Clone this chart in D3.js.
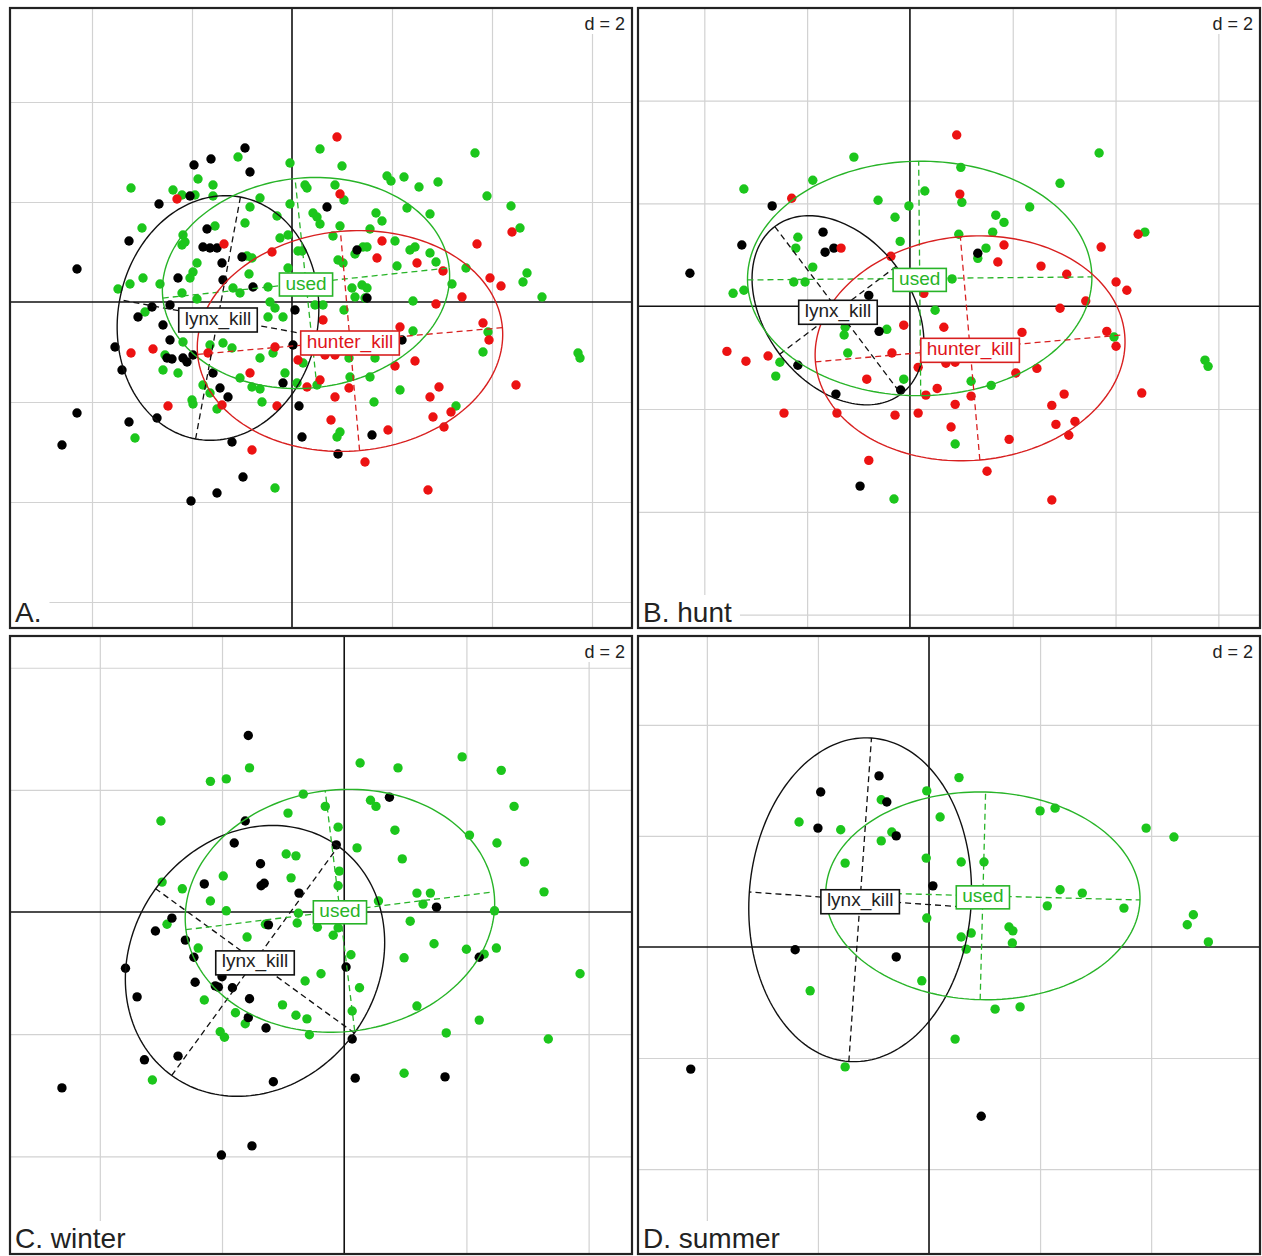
<!DOCTYPE html>
<html><head><meta charset="utf-8">
<script src="https://cdn.jsdelivr.net/npm/d3@7"></script>
<style>
html,body{margin:0;padding:0;background:#fff;}
svg text{font-family:"Liberation Sans",Arial,sans-serif;}
</style></head>
<body>
<svg id="chart" width="1262" height="1256"></svg>
<script>
// ---------- DATA ----------
const panelTitles = ["A.", "B. hunt", "C. winter", "D. summer"];
const groups = ["lynx_kill", "used", "hunter_kill"];
const gridStep = 2; // "d = 2"

// Panel A (all seasons)
const aLynx = [[-0.94,3.08],[-1.62,2.86],[-1.96,2.74],[-2.66,1.96],[-3.26,1.22],[-4.30,0.66],[-1.70,1.46],[-1.78,1.10],[-1.64,1.08],[-1.50,1.08],[-1.40,0.78],[-1.38,0.44],[-0.78,0.30],[-2.28,0.48],[-2.04,2.12],[-0.84,2.60],[0.70,1.90],[0.06,-0.16],[-2.80,-0.10],[-3.08,-0.30],[-2.44,-0.06],[-1.00,0.90],[1.30,1.04],[1.50,0.08],[-2.58,-0.46],[-2.44,-0.76],[-3.54,-0.90],[-2.50,-1.12],[-2.40,-1.14],[-2.18,-1.12],[-2.10,-1.20],[-1.98,-1.06],[-3.40,-1.36],[-1.58,-1.42],[-1.44,-1.72],[-1.28,-1.90],[-4.30,-2.22],[-3.26,-2.40],[-2.70,-2.32],[-4.60,-2.86],[-1.20,-2.80],[-0.18,-1.62],[0.14,-2.08],[0.20,-2.70],[-0.98,-3.50],[-1.50,-3.82],[-2.02,-3.98],[0.02,-0.86],[1.60,-2.66],[0.92,-3.04],[2.20,-0.76]];
const aUsed = [[0.56,3.06],[-1.08,2.90],[-0.04,2.78],[-3.22,2.28],[-2.38,2.24],[-2.20,2.14],[-1.88,2.46],[-1.58,2.34],[-1.58,2.12],[-1.94,2.14],[-0.64,2.08],[-0.84,1.90],[-0.04,1.96],[0.26,2.34],[0.30,2.28],[0.42,1.78],[0.50,1.70],[0.56,1.56],[-0.30,1.72],[-0.94,1.58],[-1.54,1.52],[-3.00,1.48],[-2.18,1.34],[-2.20,1.14],[-2.14,1.20],[-0.24,1.28],[-0.08,1.34],[0.12,1.02],[0.20,1.02],[-1.90,0.78],[-1.98,0.60],[-2.04,0.48],[-2.98,0.48],[-3.24,0.36],[-3.48,0.26],[-2.64,0.36],[-0.90,0.92],[-0.80,0.88],[-0.86,0.56],[-0.48,0.30],[-1.18,0.28],[-1.04,0.18],[-2.20,0.18],[-1.90,0.06],[0.46,-0.06],[-0.44,0.00],[-0.34,-0.12],[-2.94,-0.20],[-0.08,0.68],[-0.18,-0.30],[-0.48,-0.30],[1.00,2.72],[0.86,2.34],[1.04,2.04],[1.90,2.52],[1.98,2.42],[2.24,2.50],[2.54,2.30],[2.92,2.40],[3.66,2.98],[3.90,2.12],[4.38,1.92],[4.56,1.48],[0.96,1.52],[1.68,1.78],[1.80,1.62],[2.30,1.88],[2.76,1.76],[1.56,1.46],[0.82,1.32],[1.26,0.96],[1.42,1.10],[1.50,1.10],[2.06,1.22],[2.36,1.04],[2.46,1.10],[2.76,0.98],[2.88,0.80],[0.92,0.84],[1.02,0.78],[2.10,0.72],[3.48,0.68],[3.20,0.36],[4.70,0.58],[4.62,0.40],[5.00,0.10],[1.20,0.28],[1.40,0.34],[1.50,0.28],[1.26,0.10],[1.46,0.08],[2.42,0.02],[0.62,-0.06],[1.04,-0.16],[-2.18,-0.80],[-1.64,-0.86],[-1.38,-0.82],[-1.20,-0.92],[-2.54,-1.06],[-0.64,-1.12],[-0.38,-1.02],[-2.58,-1.36],[-2.28,-1.42],[-1.78,-1.66],[-1.64,-1.82],[-1.04,-1.52],[-0.80,-1.70],[-0.64,-1.74],[-0.14,-1.42],[0.10,-1.62],[0.50,-1.66],[-2.00,-1.96],[-1.98,-2.04],[-1.50,-2.14],[-0.60,-2.00],[-3.14,-2.72],[-0.34,-3.72],[0.22,-1.22],[2.42,-0.58],[3.92,-0.60],[3.82,-1.00],[5.72,-1.02],[5.76,-1.12],[2.16,-1.76],[1.64,-2.00],[1.16,-1.50],[1.56,-1.50],[1.14,-1.12],[1.66,-1.12],[3.28,-2.08],[0.96,-2.60],[0.90,-2.70]];
const aHunter = [[-2.30,2.06],[-1.36,1.16],[-0.40,1.00],[0.62,-0.36],[0.90,3.30],[0.96,2.16],[1.80,1.22],[1.70,0.88],[2.50,0.78],[3.02,0.62],[3.70,1.16],[4.40,1.40],[3.96,0.48],[4.18,0.32],[3.40,0.10],[2.88,-0.04],[3.82,-0.42],[-3.22,-1.02],[-2.78,-0.94],[-1.68,-1.02],[-0.34,-0.90],[-0.84,-1.42],[-2.48,-2.08],[-0.30,-2.08],[-1.40,-2.06],[-0.80,-2.96],[0.12,-1.16],[3.94,-0.76],[2.46,-1.18],[2.06,-1.28],[2.94,-1.70],[2.76,-1.90],[2.82,-2.30],[3.18,-2.20],[3.04,-2.50],[1.92,-2.56],[0.78,-2.36],[0.86,-1.90],[1.14,-1.72],[0.56,-1.56],[0.30,-1.70],[4.48,-1.66],[1.46,-3.20],[2.72,-3.76],[2.16,-0.50],[0.66,-1.06],[0.86,-1.06]];
// ellipses: [group, cx, cy, semi-axis a, semi-axis b, angle of a (deg)]
const aEllipses = [["lynx_kill",-1.48,-0.32,2.46,2.00,79.5],["used",0.28,0.38,2.88,2.10,6],["hunter_kill",1.16,-0.78,3.06,2.20,5]];

// Panel B (hunting season)
const bLynx = [[-2.68,1.95],[-1.69,1.44],[-3.27,1.19],[-1.65,1.05],[-1.48,1.13],[-4.28,0.64],[-0.80,0.21],[-0.60,-0.49],[-2.18,-1.15],[-1.44,-1.71],[-0.18,-1.63],[-0.97,-3.50],[1.32,1.03]];
const bUsed = [[-1.09,2.90],[3.68,2.98],[-3.23,2.28],[-1.89,2.45],[0.99,2.70],[2.92,2.39],[0.29,2.24],[-0.62,2.06],[-0.02,1.95],[1.01,2.02],[2.33,1.93],[-0.29,1.73],[1.67,1.77],[1.83,1.63],[1.61,1.44],[0.95,1.40],[-2.18,1.34],[-2.22,1.13],[-0.19,1.26],[1.48,1.13],[1.32,0.93],[4.57,1.44],[-1.89,0.76],[-2.26,0.47],[-2.04,0.47],[-3.44,0.25],[-3.23,0.31],[0.82,0.53],[0.49,-0.08],[-0.45,-0.45],[-1.26,-0.41],[-1.28,-0.56],[-1.21,-0.91],[-2.53,-1.09],[-2.61,-1.36],[-0.12,-1.42],[1.19,-1.46],[1.58,-1.54],[3.97,-0.60],[5.74,-1.05],[5.80,-1.17],[0.88,-2.68],[-0.31,-3.75]];
const bHunter = [[0.91,3.33],[-2.30,2.10],[0.97,2.18],[-1.34,1.13],[-0.37,0.97],[1.83,1.19],[1.71,0.86],[2.55,0.78],[3.05,0.62],[3.72,1.15],[4.44,1.40],[4.01,0.47],[4.22,0.31],[3.42,0.10],[2.92,-0.04],[0.27,0.25],[-0.12,-0.37],[0.66,-0.41],[2.18,-0.51],[3.83,-0.49],[4.01,-0.78],[-3.56,-0.88],[-3.19,-1.07],[-2.76,-0.97],[-0.35,-0.91],[0.16,-1.19],[0.70,-1.11],[0.88,-1.09],[2.47,-1.21],[2.06,-1.30],[-0.84,-1.42],[0.53,-1.60],[0.31,-1.73],[1.19,-1.75],[3.00,-1.71],[4.51,-1.69],[-2.45,-2.08],[-1.42,-2.08],[-0.29,-2.12],[0.16,-2.08],[0.88,-1.91],[2.76,-1.93],[0.80,-2.35],[2.84,-2.30],[3.21,-2.24],[3.09,-2.51],[1.93,-2.59],[-0.80,-3.00],[1.50,-3.21],[2.76,-3.77]];
const bEllipses = [["lynx_kill",-1.40,-0.08,2.04,1.42,-53],["used",0.19,0.54,3.35,2.28,0.5],["hunter_kill",1.17,-0.82,3.02,2.18,5]];

// Panel C (winter)
const cLynx = [[-1.57,2.89],[0.74,1.88],[-1.62,1.49],[-1.80,1.13],[-1.37,0.79],[-1.36,0.43],[-1.31,0.47],[-2.29,0.46],[-0.74,0.31],[-0.13,1.10],[1.51,0.08],[-2.82,-0.10],[-3.09,-0.31],[-1.24,-0.21],[-2.60,-0.46],[-2.46,-0.74],[-3.58,-0.92],[0.03,-0.90],[-2.00,-1.06],[-2.44,-1.15],[-2.11,-1.21],[-2.06,-1.23],[-1.83,-1.24],[-3.39,-1.39],[-1.55,-1.42],[-1.57,-1.73],[-1.28,-1.90],[0.13,-2.08],[-3.27,-2.42],[-2.72,-2.36],[-4.62,-2.88],[-1.16,-2.78],[0.18,-2.72],[1.65,-2.70],[2.21,-0.74],[-1.51,-3.83],[-2.01,-3.98]];
const cUsed = [[-1.55,2.36],[-2.19,2.14],[-1.93,2.18],[0.26,2.44],[0.88,2.36],[1.93,2.54],[2.57,2.32],[2.78,1.73],[-3.00,1.49],[-0.67,1.93],[-0.92,1.62],[-0.31,1.73],[0.43,1.83],[0.52,1.73],[0.83,1.34],[-0.10,1.39],[2.05,1.26],[2.50,1.13],[2.95,0.82],[0.21,1.05],[-0.95,0.95],[-0.79,0.92],[0.95,0.87],[-0.08,0.67],[-1.98,0.59],[-0.87,0.56],[-0.10,0.43],[-2.98,0.49],[-2.65,0.38],[-2.19,0.18],[1.19,0.31],[1.41,0.31],[1.29,0.13],[3.27,0.33],[0.56,0.18],[-1.93,0.02],[-0.75,-0.02],[2.46,0.02],[-1.29,-0.20],[-0.77,-0.18],[1.08,-0.15],[-0.44,-0.25],[-0.10,-0.26],[-0.18,-0.38],[-2.90,-0.20],[-1.59,-0.41],[-2.39,-0.59],[0.11,-0.70],[1.47,-0.52],[2.00,-0.61],[2.49,-0.59],[2.29,-0.69],[0.98,-0.75],[-0.38,-1.01],[-0.64,-1.13],[3.86,-1.01],[0.25,-1.24],[-2.29,-1.44],[-1.01,-1.52],[0.13,-1.62],[1.19,-1.54],[-1.78,-1.65],[-0.79,-1.69],[-0.61,-1.75],[-1.62,-1.83],[2.21,-1.77],[-0.57,-2.01],[-2.03,-1.96],[-1.96,-2.05],[1.67,-1.98],[3.34,-2.08],[-3.14,-2.75],[0.98,-2.64]];
const cEllipses = [["lynx_kill",-1.46,-0.80,2.32,2.01,54],["used",-0.07,0.02,2.54,1.98,7]];

// Panel D (summer)
const dLynx = [[-0.90,3.08],[-1.95,2.79],[-0.76,2.61],[-2.00,2.14],[-0.59,2.00],[0.07,1.10],[-2.41,-0.05],[-0.59,-0.18],[-4.29,-2.20],[0.94,-3.05]];
const dUsed = [[0.54,3.05],[-0.04,2.81],[-0.86,2.65],[0.20,2.34],[2.00,2.45],[2.27,2.50],[-2.34,2.25],[-1.59,2.11],[-0.67,2.07],[-0.86,1.91],[3.91,2.14],[4.41,1.98],[-0.05,1.60],[0.58,1.53],[0.99,1.53],[-1.51,1.51],[2.36,1.03],[2.76,0.97],[2.13,0.74],[3.51,0.70],[-0.04,0.52],[1.44,0.36],[1.51,0.29],[4.76,0.58],[4.65,0.40],[0.58,0.18],[0.76,0.25],[1.50,0.07],[0.67,-0.04],[5.03,0.09],[-0.13,-0.61],[-2.14,-0.79],[1.19,-1.12],[1.64,-1.08],[0.47,-1.66],[-1.51,-2.16]];
const dEllipses = [["lynx_kill",-1.24,0.85,2.92,2.00,86],["used",0.97,0.92,2.83,1.87,-1.5]];

// ---------- LAYOUT / STYLE ----------
const groupColor = {lynx_kill:"#000000", used:"#1cc61c", hunter_kill:"#ec1212"};
const lineColor = {lynx_kill:"#111111", used:"#28b428", hunter_kill:"#d82020"};
const textColor = {lynx_kill:"#222222", used:"#28b428", hunter_kill:"#e0141c"};

const panelData = [
  {title:panelTitles[0], pts:{lynx_kill:aLynx, used:aUsed, hunter_kill:aHunter}, ell:aEllipses,
   box:{x:10,y:8,w:622,h:620}, xd:[-5.64,6.80], yd:[-6.52,5.88]},
  {title:panelTitles[1], pts:{lynx_kill:bLynx, used:bUsed, hunter_kill:bHunter}, ell:bEllipses,
   box:{x:638,y:8,w:622,h:620}, xd:[-5.29,6.81], yd:[-6.26,5.80]},
  {title:panelTitles[2], pts:{lynx_kill:cLynx, used:cUsed}, ell:cEllipses,
   box:{x:10,y:636,w:622,h:618}, xd:[-5.47,4.71], yd:[-5.60,4.52]},
  {title:panelTitles[3], pts:{lynx_kill:dLynx, used:dUsed}, ell:dEllipses,
   box:{x:638,y:636,w:622,h:618}, xd:[-5.24,5.96], yd:[-5.53,5.60]}
];

const svg = d3.select("#chart");
svg.append("rect").attr("width",1262).attr("height",1256).attr("fill","#fff");
const drawOrder = ["used","lynx_kill","hunter_kill"];

panelData.forEach((p,i) => {
  const b = p.box;
  const x = d3.scaleLinear().domain(p.xd).range([b.x, b.x+b.w]);
  const y = d3.scaleLinear().domain(p.yd).range([b.y+b.h, b.y]);
  const g = svg.append("g");
  const cid = "clip"+i;
  g.append("clipPath").attr("id",cid).append("rect").attr("x",b.x).attr("y",b.y).attr("width",b.w).attr("height",b.h);
  const inner = g.append("g").attr("clip-path",`url(#${cid})`);

  // grid
  const gx = d3.range(Math.ceil(p.xd[0]/gridStep)*gridStep, p.xd[1], gridStep).filter(v=>v!==0);
  const gy = d3.range(Math.ceil(p.yd[0]/gridStep)*gridStep, p.yd[1], gridStep).filter(v=>v!==0);
  inner.append("g").attr("transform",`translate(0,${b.y+b.h})`)
    .call(d3.axisBottom(x).tickValues(gx).tickSize(b.h).tickFormat(""))
    .call(s=>{s.select(".domain").remove(); s.selectAll("line").attr("y2",-b.h).attr("stroke","#d2d2d2").attr("stroke-width",1.2);});
  inner.append("g").attr("transform",`translate(${b.x},0)`)
    .call(d3.axisLeft(y).tickValues(gy).tickSize(0).tickFormat(""))
    .call(s=>{s.select(".domain").remove(); s.selectAll("line").attr("x2",b.w).attr("stroke","#d2d2d2").attr("stroke-width",1.2);});
  // axes through origin
  inner.append("line").attr("x1",b.x).attr("x2",b.x+b.w).attr("y1",y(0)).attr("y2",y(0)).attr("stroke","#111").attr("stroke-width",1.6);
  inner.append("line").attr("x1",x(0)).attr("x2",x(0)).attr("y1",b.y).attr("y2",b.y+b.h).attr("stroke","#111").attr("stroke-width",1.6);

  // points
  drawOrder.forEach(gr => {
    if(!p.pts[gr]) return;
    inner.append("g").selectAll("circle").data(p.pts[gr]).join("circle")
      .attr("cx",d=>x(d[0])).attr("cy",d=>y(d[1])).attr("r",4.7).attr("fill",groupColor[gr]);
  });

  // ellipses
  p.ell.forEach(e => {
    const [gr,cx,cy,a,bb,ang] = e;
    const th = ang*Math.PI/180, c=Math.cos(th), s=Math.sin(th);
    const ts = d3.range(0, 2*Math.PI+0.001, Math.PI/90);
    const pts = ts.map(t => [cx + a*c*Math.cos(t) - bb*s*Math.sin(t), cy + a*s*Math.cos(t) + bb*c*Math.sin(t)]);
    inner.append("path").attr("d", d3.line().x(d=>x(d[0])).y(d=>y(d[1]))(pts))
      .attr("fill","none").attr("stroke",lineColor[gr]).attr("stroke-width",1.4);
    const axesL = [[[cx-a*c,cy-a*s],[cx+a*c,cy+a*s]],[[cx+bb*s,cy-bb*c],[cx-bb*s,cy+bb*c]]];
    axesL.forEach(l => inner.append("line")
      .attr("x1",x(l[0][0])).attr("y1",y(l[0][1])).attr("x2",x(l[1][0])).attr("y2",y(l[1][1]))
      .attr("stroke",lineColor[gr]).attr("stroke-width",1.3).attr("stroke-dasharray","6,4"));
  });
  // labels
  p.ell.forEach(e => {
    const [gr,cx,cy] = e;
    const lg = inner.append("g");
    const t = lg.append("text").attr("x",x(cx)).attr("y",y(cy)).attr("text-anchor","middle")
      .attr("dominant-baseline","central").attr("font-size",19).attr("fill",textColor[gr]).text(gr);
    const bb = t.node().getBBox();
    lg.insert("rect","text").attr("x",bb.x-6).attr("y",bb.y+0.5).attr("width",bb.width+12).attr("height",bb.height+2)
      .attr("fill","#fff").attr("stroke",lineColor[gr]).attr("stroke-width",1.6);
  });

  // d = 2
  const dg = inner.append("g");
  const dt = dg.append("text").attr("x",b.x+b.w-7).attr("y",b.y+22).attr("text-anchor","end")
    .attr("font-size",18).attr("fill","#222").text("d = " + gridStep);
  const dbb = dt.node().getBBox();
  dg.insert("rect","text").attr("x",dbb.x-4).attr("y",b.y).attr("width",b.x+b.w-dbb.x+4).attr("height",26).attr("fill","#fff");

  // panel title
  const tg = inner.append("g");
  const tt = tg.append("text").attr("x",b.x+5).attr("y",b.y+b.h-6).attr("font-size",28).attr("fill","#222").text(p.title);
  const tbb = tt.node().getBBox();
  tg.insert("rect","text").attr("x",b.x).attr("y",b.y+b.h-33).attr("width",tbb.x+tbb.width+8-b.x).attr("height",33).attr("fill","#fff");

  // frame
  g.append("rect").attr("x",b.x).attr("y",b.y).attr("width",b.w).attr("height",b.h)
    .attr("fill","none").attr("stroke","#222").attr("stroke-width",2.2);
});
</script>
</body></html>
